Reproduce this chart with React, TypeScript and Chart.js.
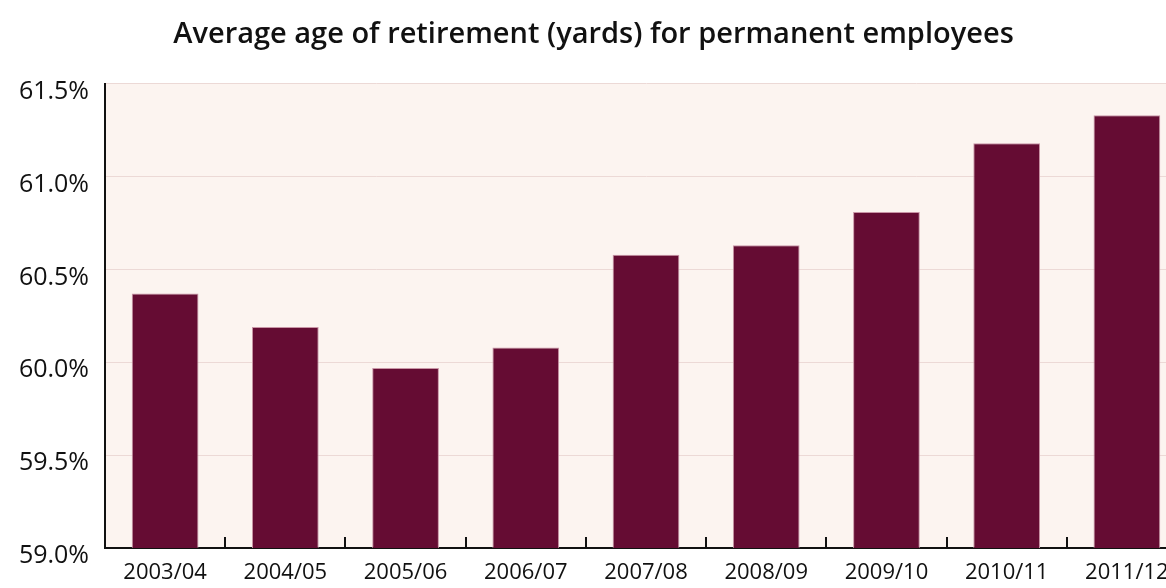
import React, { useEffect, useRef } from "react";
import { Chart, registerables } from "chart.js";

Chart.register(...registerables);

const titleText = "Average age of retirement (yards) for permanent employees";
const categories = ["2003/04", "2004/05", "2005/06", "2006/07", "2007/08", "2008/09", "2009/10", "2010/11", "2011/12"];
const values = [60.37, 60.19, 59.97, 60.08, 60.58, 60.63, 60.81, 61.18, 61.33];
const yMin = 59.0;
const yMax = 61.5;
const yStep = 0.5;

const bgPlugin = {
  id: "plotBg",
  beforeDraw(chart: any) {
    const { ctx, chartArea } = chart;
    ctx.save();
    ctx.fillStyle = "#fcf4f0";
    ctx.fillRect(chartArea.left, chartArea.top, chartArea.right - chartArea.left, chartArea.bottom - chartArea.top);
    ctx.restore();
  },
};

const innerTicksPlugin = {
  id: "innerTicks",
  afterDraw(chart: any) {
    const { ctx, chartArea } = chart;
    const x = chart.scales.x;
    ctx.save();
    ctx.strokeStyle = "#111";
    ctx.lineWidth = 2;
    for (let i = 1; i < categories.length; i++) {
      const px = Math.round((x.getPixelForValue(i - 1) + x.getPixelForValue(i)) / 2);
      ctx.beginPath();
      ctx.moveTo(px, chartArea.bottom);
      ctx.lineTo(px, chartArea.bottom - 11);
      ctx.stroke();
    }
    ctx.restore();
  },
};

export default function App() {
  const ref = useRef<HTMLCanvasElement>(null);
  useEffect(() => {
    if (!ref.current) return;
    const chart = new Chart(ref.current, {
      type: "bar",
      data: {
        labels: categories,
        datasets: [
          {
            data: values,
            backgroundColor: "#650c33",
            borderColor: "#c995a6",
            borderWidth: 1,
            barPercentage: 0.555,
            categoryPercentage: 1,
          },
        ],
      },
      options: {
        animation: false,
        responsive: false,
        maintainAspectRatio: false,
        layout: { padding: { left: 0, right: 0, top: 0, bottom: 0 } },
        plugins: {
          legend: { display: false },
          tooltip: { enabled: false },
          title: {
            display: true,
            text: titleText,
            color: "#111",
            font: { family: "'Open Sans'", size: 29, weight: "600" },
            padding: { top: 17, bottom: 32 },
          },
        },
        scales: {
          x: {
            grid: { display: false, drawTicks: false },
            border: { color: "#111", width: 2 },
            ticks: {
              color: "#111",
              font: { family: "'Open Sans'", size: 22, weight: "500" },
              padding: 12,
              maxRotation: 0,
              autoSkip: false,
            },
            afterFit(scale: any) {
              scale.height = 40;
            },
          },
          y: {
            min: yMin,
            max: yMax,
            grid: { color: "#ecd9d6", drawTicks: false, lineWidth: 1 },
            border: { color: "#111", width: 2 },
            ticks: {
              stepSize: yStep,
              color: "#111",
              font: { family: "'Open Sans'", size: 25, weight: "500" },
              padding: 16,
              labelOffset: 8,
              callback: (v: any) => Number(v).toFixed(1) + "%",
            },
            afterFit(scale: any) {
              scale.width = 105;
            },
          },
        },
      },
      plugins: [bgPlugin, innerTicksPlugin],
    });
    return () => chart.destroy();
  }, []);
  return (
    <div style={{ position: "absolute", left: 0, top: 0, width: 1166, height: 588, overflow: "hidden", background: "#fff" }}>
      <canvas ref={ref} width={1187} height={588} style={{ display: "block" }} />
    </div>
  );
}
